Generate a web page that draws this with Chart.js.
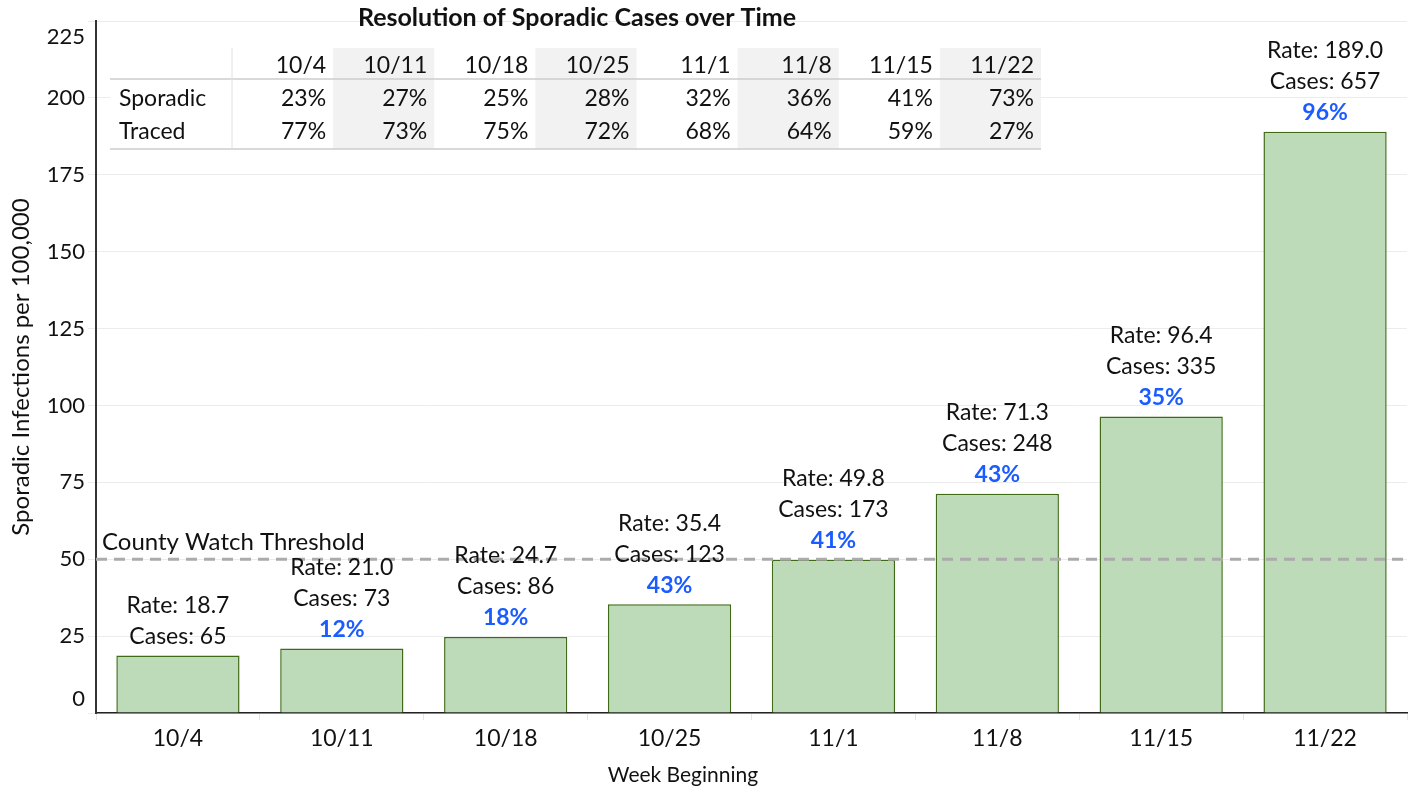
<!DOCTYPE html>
<html>
<head>
<meta charset="utf-8">
<script src="https://cdn.jsdelivr.net/npm/chart.js@4.4.0/dist/chart.umd.min.js"></script>
<style>
  html, body { margin: 0; padding: 0; background: #fff; }
  #wrap { width: 1412px; height: 790px; position: relative; }
</style>
</head>
<body>
<div id="wrap"><canvas id="chart"></canvas></div>
<script>
// Data
const weeks = ['10/4', '10/11', '10/18', '10/25', '11/1', '11/8', '11/15', '11/22'];
const rates = [18.7, 21.0, 24.7, 35.4, 49.8, 71.3, 96.4, 189.0];
const cases = [65, 73, 86, 123, 173, 248, 335, 657];
const weeklyChange = [null, 12, 18, 43, 41, 43, 35, 96];
const sporadicShare = [23, 27, 25, 28, 32, 36, 41, 73];
const tracedShare = [77, 73, 75, 72, 68, 64, 59, 27];
const yTicks = [0, 25, 50, 75, 100, 125, 150, 175, 200, 225];
const watchThreshold = 50;

const FONT = 'Lato, "Open Sans", sans-serif';

// Threshold line, bar labels, y tick labels
const overlay = {
  id: 'overlay',
  afterDatasetsDraw(chart) {
    const { ctx, chartArea, scales: { x, y } } = chart;
    ctx.save();

    // County watch threshold
    const ty = y.getPixelForValue(watchThreshold);
    ctx.strokeStyle = '#ababab';
    ctx.lineWidth = 3;
    ctx.setLineDash([11, 7]);
    ctx.beginPath();
    ctx.moveTo(chartArea.left, ty);
    ctx.lineTo(chartArea.right, ty);
    ctx.stroke();
    ctx.setLineDash([]);
    ctx.fillStyle = '#111';
    ctx.font = `24px ${FONT}`;
    ctx.textAlign = 'left';
    ctx.textBaseline = 'middle';
    ctx.fillText('County Watch Threshold', chartArea.left + 6, ty - 17);

    // labels over bars
    const meta = chart.getDatasetMeta(0);
    ctx.textAlign = 'center';
    meta.data.forEach((bar, i) => {
      const top = bar.y;
      const cx = bar.x;
      let off = 19;
      if (weeklyChange[i] !== null) {
        ctx.fillStyle = '#1a5cff';
        ctx.font = `bold 23px ${FONT}`;
        ctx.fillText(weeklyChange[i] + '%', cx, top - off);
        off += 31;
      }
      ctx.fillStyle = '#111';
      ctx.font = `23px ${FONT}`;
      ctx.fillText('Cases: ' + cases[i], cx, top - off);
      ctx.fillText('Rate: ' + rates[i].toFixed(1), cx, top - off - 31);
    });

    // y tick labels (ends pulled inside like the original)
    ctx.textAlign = 'right';
    ctx.font = `22px ${FONT}`;
    ctx.fillStyle = '#111';
    yTicks.forEach((v) => {
      let py = y.getPixelForValue(v);
      py = Math.min(Math.max(py, chartArea.top + 16), chartArea.bottom - 14);
      ctx.fillText(String(v), chartArea.left - 11, py);
    });

    // x axis title
    ctx.textAlign = 'center';
    ctx.font = `21px ${FONT}`;
    ctx.fillText('Week Beginning', 683, 775);
    ctx.restore();
  },
  afterDraw(chart) {
    // Summary table in top-left of the plot
    const { ctx } = chart;
    const left = 110;
    const labelRight = 232;
    const right = 1041;
    const top = 48;
    const headLine = 79;
    const bottom = 149;
    const colW = (right - labelRight) / weeks.length;
    ctx.save();
    ctx.fillStyle = '#fff';
    ctx.fillRect(left, top, right - left, bottom - top + 1);
    weeks.forEach((w, i) => {
      if (i % 2 === 1) {
        ctx.fillStyle = '#f2f2f2';
        ctx.fillRect(labelRight + i * colW, top, colW, bottom - top);
      }
    });
    ctx.strokeStyle = '#cdcdcd';
    ctx.lineWidth = 1.5;
    ctx.beginPath();
    ctx.moveTo(left, headLine); ctx.lineTo(right, headLine);
    ctx.moveTo(left, bottom); ctx.lineTo(right, bottom);
    ctx.stroke();
    ctx.strokeStyle = '#e0e0e0';
    ctx.lineWidth = 1;
    ctx.beginPath();
    ctx.moveTo(labelRight, top); ctx.lineTo(labelRight, bottom);
    ctx.stroke();

    ctx.fillStyle = '#111';
    ctx.font = `23px ${FONT}`;
    ctx.textBaseline = 'middle';
    ctx.textAlign = 'right';
    weeks.forEach((w, i) => {
      const rx = labelRight + (i + 1) * colW - 7;
      ctx.fillText(w, rx, 66);
      ctx.fillText(sporadicShare[i] + '%', rx, 99);
      ctx.fillText(tracedShare[i] + '%', rx, 132);
    });
    ctx.textAlign = 'left';
    ctx.fillText('Sporadic', 119, 99);
    ctx.fillText('Traced', 119, 132);

    ctx.textAlign = 'center';
    ctx.font = `bold 25px ${FONT}`;
    ctx.fillText('Resolution of Sporadic Cases over Time', 577, 18);
    ctx.restore();
  },
};

const ctx = document.getElementById('chart');
new Chart(ctx, {
  type: 'bar',
  data: {
    labels: weeks,
    datasets: [
      {
        label: 'Rate',
        data: rates,
        backgroundColor: '#bedbb9',
        borderColor: '#3f6b17',
        borderWidth: 1.5,
        borderSkipped: 'bottom',
        categoryPercentage: 1,
        barPercentage: 0.752,
      },
    ],
  },
  options: {
    responsive: true,
    maintainAspectRatio: false,
    animation: false,
    layout: {
      padding: { top: 21, right: 5, left: 0, bottom: 0 },
    },
    scales: {
      x: {
        offset: true,
        grid: {
          offset: true,
          drawOnChartArea: false,
          color: '#e6e6e6',
          tickLength: 7,
        },
        border: { color: '#222', width: 1.5 },
        ticks: {
          color: '#111',
          font: { family: FONT, size: 23 },
          padding: 5,
          maxRotation: 0,
        },
        afterFit: (scale) => { scale.height = 77; },
      },
      y: {
        min: 0,
        max: 225,
        grid: {
          color: '#ececec',
          lineWidth: 1,
          tickLength: 8,
        },
        border: { color: '#333', width: 2 },
        ticks: {
          display: false,
          stepSize: 25,
        },
        title: {
          display: true,
          text: 'Sporadic Infections per 100,000',
          color: '#111',
          font: { family: FONT, size: 24 },
          padding: { top: 7, bottom: 0 },
        },
        afterFit: (scale) => { scale.width = 96; },
      },
    },
    plugins: {
      legend: { display: false },
      tooltip: { enabled: false },
    },
  },
  plugins: [overlay],
});
</script>
</body>
</html>
